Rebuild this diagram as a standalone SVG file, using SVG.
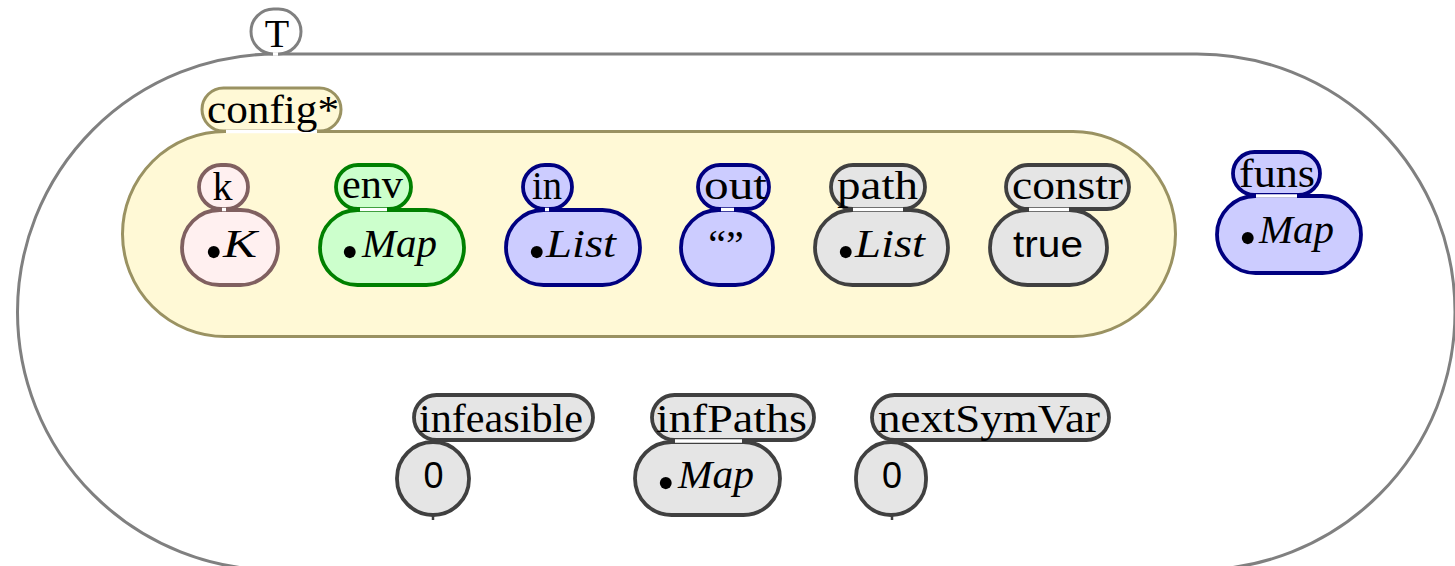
<svg xmlns="http://www.w3.org/2000/svg" width="1455" height="566" viewBox="0 0 1455 566">
  <style>
    .lbl { font-family: "Liberation Serif", "DejaVu Serif", serif; font-size: 40px; text-anchor: middle; fill: #000; }
    .val { font-family: "Liberation Serif", "DejaVu Serif", serif; font-size: 40px; fill: #000; }
    .it { font-style: italic; }
    .dot { font-size: 50px; }
    .sans { font-family: "Liberation Sans", "DejaVu Sans", sans-serif; font-size: 36px; text-anchor: middle; fill: #000; }
    .gap { stroke: #fff; stroke-width: 3.5; }
    .tail { stroke: #404040; stroke-width: 2.5; }
    .c-top { fill: #fff; stroke: #808080; stroke-width: 3; }
    .c-cfg { fill: #fff9d6; stroke: #9a9262; stroke-width: 3; }
    .c-k { fill: #fff0f0; stroke: #806060; stroke-width: 3.8; }
    .c-green { fill: #ccffcc; stroke: #008000; stroke-width: 3.8; }
    .c-blue { fill: #ccccff; stroke: #000080; stroke-width: 3.8; }
    .c-gray { fill: #e5e5e5; stroke: #404040; stroke-width: 3.8; }
  </style>

  <!-- top cell T -->
  <g id="cell-T">
    <path class="c-top" d="M 275.5 54 H 1197 A 258 258 0 0 1 1197 570 H 275.5 A 258 258 0 0 1 275.5 54 Z"/>
    <rect class="c-top" x="251" y="9" width="50" height="45" rx="22.5"/>
    <line class="gap" x1="273" y1="54" x2="278" y2="54"/>
    <text class="lbl" x="277" y="47">T</text>
  </g>

  <!-- configuration cell -->
  <g id="cell-config">
    <rect class="c-cfg" x="122.5" y="131.5" width="1053" height="205" rx="102.5"/>
    <rect class="c-cfg" x="202" y="88" width="139" height="43" rx="21.5"/>
    <line class="gap" x1="226" y1="131.5" x2="317" y2="131.5"/>
    <text class="lbl" x="273" y="123" textLength="132" lengthAdjust="spacingAndGlyphs">config*</text>
  </g>

  <g id="cell-k">
    <rect class="c-k" x="182" y="210" width="96" height="75" rx="37.5"/>
    <rect class="c-k" x="199" y="165" width="49" height="44" rx="22"/>
    <line class="gap" x1="222" y1="209.5" x2="226" y2="209.5"/>
    <text class="lbl" x="222.5" y="200">k</text>
    <text class="val"><tspan class="dot" x="205" y="269">•</tspan><tspan class="it" x="223" y="257" textLength="34" lengthAdjust="spacingAndGlyphs">K</tspan></text>
  </g>

  <g id="cell-env">
    <rect class="c-green" x="320" y="210" width="144" height="75" rx="37.5"/>
    <rect class="c-green" x="336" y="165" width="75" height="44" rx="22"/>
    <line class="gap" x1="360" y1="209.5" x2="387" y2="209.5"/>
    <text class="lbl" x="372.5" y="198" textLength="61" lengthAdjust="spacingAndGlyphs">env</text>
    <text class="val"><tspan class="dot" x="341" y="269">•</tspan><tspan class="it" x="362" y="257" textLength="75" lengthAdjust="spacingAndGlyphs">Map</tspan></text>
  </g>

  <g id="cell-in">
    <rect class="c-blue" x="506" y="210" width="134" height="75" rx="37.5"/>
    <rect class="c-blue" x="523" y="165" width="49" height="44" rx="22"/>
    <line class="gap" x1="545" y1="209.5" x2="549" y2="209.5"/>
    <text class="lbl" x="547" y="199" textLength="30" lengthAdjust="spacingAndGlyphs">in</text>
    <text class="val"><tspan class="dot" x="528" y="269">•</tspan><tspan class="it" x="546" y="257" textLength="70" lengthAdjust="spacingAndGlyphs">List</tspan></text>
  </g>

  <g id="cell-out">
    <rect class="c-blue" x="681" y="210" width="92" height="75" rx="37.5"/>
    <rect class="c-blue" x="698" y="165" width="71" height="44" rx="22"/>
    <line class="gap" x1="721" y1="209.5" x2="734" y2="209.5"/>
    <text class="lbl" x="735.5" y="199" textLength="63" lengthAdjust="spacingAndGlyphs">out</text>
    <text class="lbl" x="726" y="258">“”</text>
  </g>

  <g id="cell-path">
    <rect class="c-gray" x="815" y="210" width="133" height="75" rx="37.5"/>
    <rect class="c-gray" x="831" y="165" width="94" height="44" rx="22"/>
    <line class="gap" x1="853" y1="209.5" x2="903" y2="209.5"/>
    <text class="lbl" x="877.5" y="199" textLength="81" lengthAdjust="spacingAndGlyphs">path</text>
    <text class="val"><tspan class="dot" x="837" y="269">•</tspan><tspan class="it" x="855" y="257" textLength="70" lengthAdjust="spacingAndGlyphs">List</tspan></text>
  </g>

  <g id="cell-constr">
    <rect class="c-gray" x="990" y="210" width="117" height="75" rx="37.5"/>
    <rect class="c-gray" x="1006" y="165" width="123" height="44" rx="22"/>
    <line class="gap" x1="1029" y1="209.5" x2="1069" y2="209.5"/>
    <text class="lbl" x="1067.5" y="199" textLength="111" lengthAdjust="spacingAndGlyphs">constr</text>
    <text class="sans" x="1048" y="257" textLength="70" lengthAdjust="spacingAndGlyphs">true</text>
  </g>

  <g id="cell-funs">
    <rect class="c-blue" x="1217" y="196" width="144" height="77" rx="38.5"/>
    <rect class="c-blue" x="1233" y="152" width="87" height="43" rx="21.5"/>
    <line class="gap" x1="1256" y1="196" x2="1297" y2="196"/>
    <text class="lbl" x="1277" y="187" textLength="76" lengthAdjust="spacingAndGlyphs">funs</text>
    <text class="val"><tspan class="dot" x="1239" y="255">•</tspan><tspan class="it" x="1259" y="243" textLength="75" lengthAdjust="spacingAndGlyphs">Map</tspan></text>
  </g>

  <g id="cell-infeasible">
    <rect class="c-gray" x="414" y="395" width="179" height="45" rx="22.5"/>
    <rect class="c-gray" x="397" y="442" width="72" height="73" rx="36"/>
    <line class="tail" x1="433" y1="515" x2="433" y2="520"/>
    <text class="lbl" x="501" y="432" textLength="164" lengthAdjust="spacingAndGlyphs">infeasible</text>
    <text class="sans" x="433.5" y="488">0</text>
  </g>

  <g id="cell-infPaths">
    <rect class="c-gray" x="635" y="442" width="145" height="73" rx="36.5"/>
    <rect class="c-gray" x="652" y="395" width="162" height="45" rx="22.5"/>
    <line class="gap" x1="675" y1="441" x2="742" y2="441"/>
    <text class="lbl" x="731.5" y="432" textLength="151" lengthAdjust="spacingAndGlyphs">infPaths</text>
    <text class="val"><tspan class="dot" x="657" y="500">•</tspan><tspan class="it" x="678" y="488" textLength="76" lengthAdjust="spacingAndGlyphs">Map</tspan></text>
  </g>

  <g id="cell-nextSymVar">
    <rect class="c-gray" x="872" y="395" width="237" height="45" rx="22.5"/>
    <rect class="c-gray" x="856" y="442" width="70" height="73" rx="35"/>
    <line class="tail" x1="892" y1="515" x2="892" y2="520"/>
    <text class="lbl" x="989" y="432" textLength="222" lengthAdjust="spacingAndGlyphs">nextSymVar</text>
    <text class="sans" x="892" y="488">0</text>
  </g>
</svg>
